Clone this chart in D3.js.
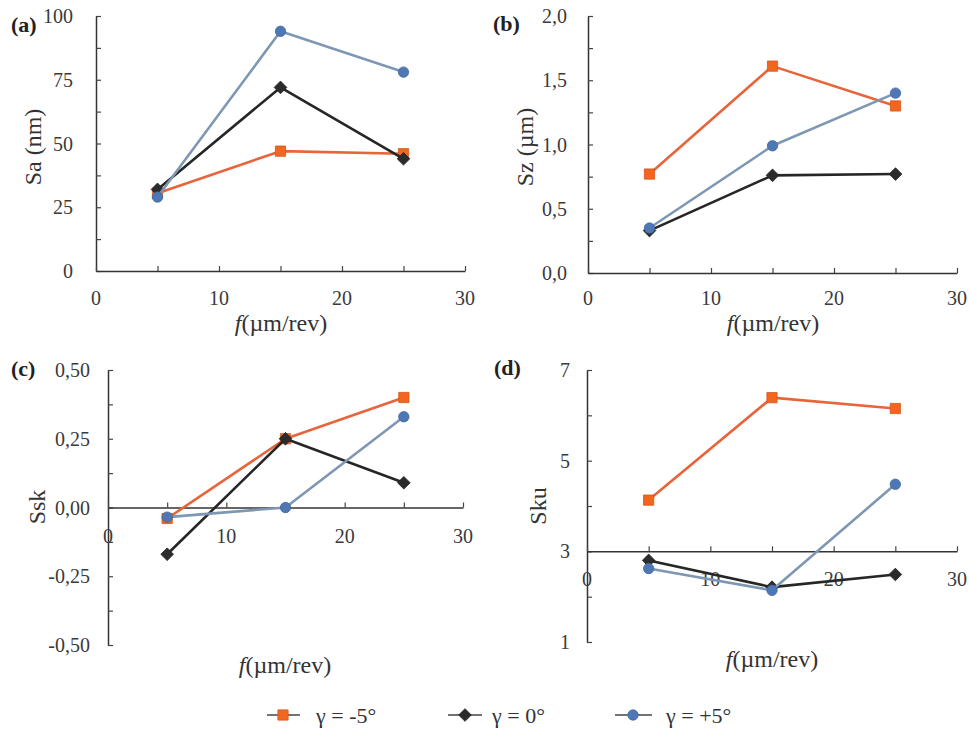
<html><head><meta charset="utf-8"><script src="https://cdn.jsdelivr.net/npm/d3@7"></script></head>
<body style="margin:0">
<svg id="chart" width="970" height="730"></svg>
<script>
// ---- data ----
const feed = [5, 15, 25];                       // f (µm/rev)
const seriesNames = ["γ = -5°", "γ = 0°", "γ = +5°"];

const saM5 = [30.5, 47, 46];
const sa0  = [32, 72, 44];
const saP5 = [29, 94, 78];

const szM5 = [0.77, 1.61, 1.30];
const sz0  = [0.33, 0.76, 0.77];
const szP5 = [0.35, 0.99, 1.40];

const sskM5 = [-0.04, 0.25, 0.40];
const ssk0  = [-0.17, 0.25, 0.09];
const sskP5 = [-0.035, 0.00, 0.33];

const skuM5 = [4.13, 6.39, 6.15];
const sku0  = [2.80, 2.21, 2.49];
const skuP5 = [2.62, 2.14, 4.48];

const xTickLabels = [0, 10, 20, 30];
const saTicks  = [0, 25, 50, 75, 100];
const szTicks  = [0, 0.5, 1.0, 1.5, 2.0];
const sskTicks = [-0.5, -0.25, 0, 0.25, 0.5];
const skuTicks = [1, 3, 5, 7];

// ---- styles ----
const FONT = '"Liberation Serif"';
const colors = {
  line:   ["#e8643a", "#262626", "#7e97b3"],
  marker: ["#f2661f", "#2b2b2b", "#4d78b5"]
};
const symbols = [d3.symbolSquare, d3.symbolSquare, d3.symbolCircle];
const symRot = [0, 45, 0];
const symSize = [105, 80, 85];

const loc = d3.formatLocale({decimal: ",", thousands: ".", grouping: [3], currency: ["", ""], minus: "-"});

const panels = [
  { label: "(a)", lx: 11, ly: 32, title: "Sa (nm)", tx: 33, ty: 147,
    x0: 96, x1: 465, yTop: 16, yBot: 271, domain: [0, 100], minor: 12.5, xAxisAt: 0,
    ticks: saTicks, fmt: loc.format("d"), yLabGap: 23, xLabBase: 305,
    xtX: 281, xtY: 331, data: [saM5, sa0, saP5] },
  { label: "(b)", lx: 493, ly: 31, title: "Sz (µm)", tx: 525, ty: 147,
    x0: 588, x1: 957, yTop: 16, yBot: 273, domain: [0, 2], minor: 0.25, xAxisAt: 0,
    ticks: szTicks, fmt: loc.format(".1f"), yLabGap: 21, xLabBase: 305,
    xtX: 773, xtY: 331, data: [szM5, sz0, szP5] },
  { label: "(c)", lx: 11, ly: 376, title: "Ssk", tx: 37, ty: 507,
    x0: 108, x1: 463, yTop: 370, yBot: 645, domain: [-0.5, 0.5], minor: 0.125, xAxisAt: 0,
    ticks: sskTicks, fmt: loc.format(".2f"), yLabGap: 18, xLabBase: 543,
    xtX: 285, xtY: 673, data: [sskM5, ssk0, sskP5] },
  { label: "(d)", lx: 494, ly: 375, title: "Sku", tx: 538, ty: 506,
    x0: 587, x1: 957, yTop: 370, yBot: 642, domain: [1, 7], minor: 1, xAxisAt: 3,
    ticks: skuTicks, fmt: loc.format("d"), yLabGap: 17, xLabBase: 586,
    xtX: 772, xtY: 667, data: [skuM5, sku0, skuP5] }
];

const svg = d3.select("#chart");

function marker(sel, i) {
  return sel
    .attr("d", d3.symbol().type(symbols[i]).size(symSize[i]))
    .attr("fill", colors.marker[i])
    .attr("stroke", d3.color(colors.marker[i]).darker(0.4))
    .attr("stroke-width", 0.8);
}

panels.forEach(p => {
  const g = svg.append("g");
  const x = d3.scaleLinear().domain([0, 30]).range([p.x0, p.x1]);
  const y = d3.scaleLinear().domain(p.domain).range([p.yBot, p.yTop]);

  const minorTicks = d3.range(p.domain[0], p.domain[1] + p.minor / 2, p.minor);

  // x tick labels (drawn first so axis lines sit on top, like the reference)
  g.selectAll(".xlab").data(xTickLabels).enter().append("text")
    .attr("x", d => x(d))
    .attr("y", p.xLabBase)
    .attr("text-anchor", "middle")
    .attr("font-size", 20)
    .attr("fill", "#3a3a3a")
    .style("font-family", FONT)
    .text(d => d);

  // axes built from the scales; tick lines only (inward ticks)
  const yAxis = d3.axisLeft(y).tickValues(minorTicks).tickSize(-5).tickSizeOuter(0).tickFormat("");
  const xAxis = d3.axisBottom(x).tickValues(d3.range(0, 31, 5)).tickSize(-5).tickSizeOuter(0).tickFormat("");

  const ya = g.append("g").attr("transform", `translate(${p.x0},0)`).call(yAxis);
  ya.selectAll("text").remove();
  ya.attr("font-family", null);
  ya.select(".domain").attr("stroke", "#333").attr("stroke-width", 1.5);
  ya.selectAll(".tick line").attr("stroke", "#444").attr("stroke-width", 1.2);

  const xa = g.append("g").attr("transform", `translate(0,${y(p.xAxisAt)})`).call(xAxis);
  xa.selectAll("text").remove();
  xa.attr("font-family", null);
  xa.select(".domain").attr("stroke", "#333").attr("stroke-width", 1.5);
  xa.selectAll(".tick line").attr("stroke", "#444").attr("stroke-width", 1.2);

  // y tick labels
  g.selectAll(".ylab").data(p.ticks).enter().append("text")
    .attr("x", p.x0 - p.yLabGap)
    .attr("y", d => y(d))
    .attr("dy", "0.35em")
    .attr("text-anchor", "end")
    .attr("font-size", 20)
    .attr("fill", "#3a3a3a")
    .style("font-family", FONT)
    .text(d => p.fmt(d));

  // series (orange, black, blue order)
  p.data.forEach((vals, si) => {
    const pts = feed.map((f, i) => [f, vals[i]]);
    g.append("path")
      .datum(pts)
      .attr("fill", "none")
      .attr("stroke", colors.line[si])
      .attr("stroke-width", 2.6)
      .attr("stroke-linejoin", "round")
      .attr("d", d3.line().x(d => x(d[0])).y(d => y(d[1])));
    g.selectAll(".m" + si).data(pts).enter().append("path")
      .attr("transform", d => `translate(${x(d[0])},${y(d[1])}) rotate(${symRot[si]})`)
      .call(marker, si);
  });

  // panel label
  g.append("text")
    .attr("x", p.lx).attr("y", p.ly)
    .attr("font-size", 22).attr("font-weight", "bold").attr("fill", "#222")
    .style("font-family", FONT)
    .text(p.label);

  // y title
  g.append("text")
    .attr("transform", `translate(${p.tx},${p.ty}) rotate(-90)`)
    .attr("text-anchor", "middle")
    .attr("dy", "0.35em")
    .attr("font-size", 24).attr("fill", "#333")
    .style("font-family", FONT)
    .text(p.title);

  // x title
  const xt = g.append("text")
    .attr("x", p.xtX).attr("y", p.xtY)
    .attr("text-anchor", "middle")
    .attr("font-size", 24).attr("fill", "#333")
    .style("font-family", FONT);
  xt.append("tspan").attr("font-style", "italic").text("f");
  xt.append("tspan").text("(µm/rev)");
});

// ---- legend ----
const legendItems = [
  { lineX: [267, 300], mx: 283, tx: 316 },
  { lineX: [448, 482], mx: 465, tx: 492 },
  { lineX: [615, 652], mx: 633, tx: 666 }
];
const ly = 715;
const lg = svg.append("g");
legendItems.forEach((it, i) => {
  lg.append("line")
    .attr("x1", it.lineX[0]).attr("x2", it.lineX[1])
    .attr("y1", ly).attr("y2", ly)
    .attr("stroke", "#444").attr("stroke-width", 1.3);
  lg.append("path")
    .attr("transform", `translate(${it.mx},${ly}) rotate(${symRot[i]})`)
    .call(marker, i);
  lg.append("text")
    .attr("x", it.tx).attr("y", ly)
    .attr("dy", "0.35em")
    .attr("font-size", 22).attr("fill", "#333")
    .style("font-family", FONT)
    .text(seriesNames[i]);
});
</script>
</body>
</html>
